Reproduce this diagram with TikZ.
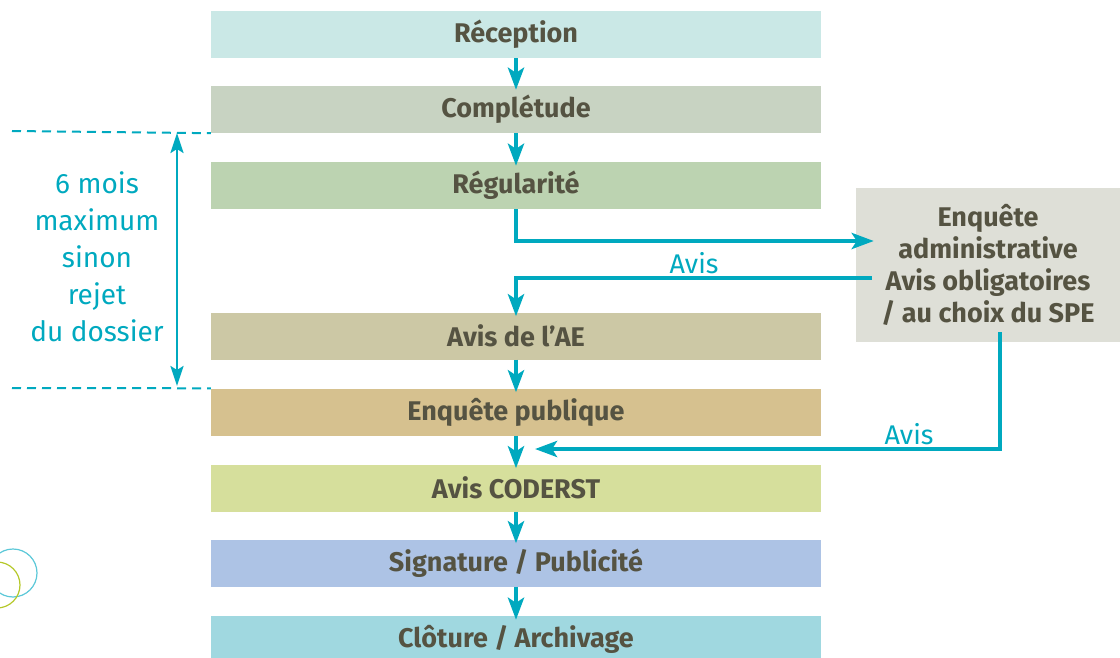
\documentclass[tikz,border=0pt]{standalone}
\usepackage{fontspec}
\setmainfont{Fira Sans}
\usetikzlibrary{graphs,positioning,arrows.meta}
\definecolor{tealline}{HTML}{00A9BF}
\definecolor{stagetext}{HTML}{555342}
\definecolor{recfill}{HTML}{CAE8E6}
\definecolor{compfill}{HTML}{C8D3C2}
\definecolor{regfill}{HTML}{BCD3B1}
\definecolor{aefill}{HTML}{CCC8A5}
\definecolor{pubfill}{HTML}{D6C18F}
\definecolor{codfill}{HTML}{D6DF9C}
\definecolor{sigfill}{HTML}{ADC3E5}
\definecolor{clofill}{HTML}{A0D8E0}
\definecolor{admfill}{HTML}{DEDFD7}
\definecolor{ringblue}{HTML}{5CC8D8}
\definecolor{ringgreen}{HTML}{B5C82A}
\tikzset{
    stage/.style ={
        shape=rectangle,
        minimum width=610pt,
        minimum height=47pt,
        inner sep=0pt,
        text=stagetext,
        font=\fontsize{27}{30}\selectfont\bfseries
    },
    consult/.style ={
        shape=rectangle,
        fill=admfill,
        minimum width=264pt,
        minimum height=154pt,
        inner sep=0pt,
        align=center,
        text=stagetext,
        font=\fontsize{27}{32}\selectfont\bfseries
    },
    flow/.style ={
        draw=tealline,
        line width=4.5pt,
        shorten >=-4pt
    },
    limit/.style ={
        draw=tealline,
        line width=2pt,
        dash pattern=on 9pt off 6pt
    },
    delay/.style ={
        text=tealline,
        align=center,
        font=\fontsize{28}{37}\selectfont
    },
    avis/.style ={
        text=tealline,
        font=\fontsize{27}{30}\selectfont
    }
}
\begin{document}
\begin{tikzpicture}[x=1pt,y=-1pt,>={Stealth[length=22pt,width=16pt,inset=5pt]}]
    \useasboundingbox (0,0) rectangle (1120,658);
    \node[stage,fill=recfill] (rec) at(516,34.5) {Réception};
    \node[stage,fill=compfill] (comp) at(516,109.5) {Complétude};
    \node[stage,fill=regfill] (reg) at(516,185.5) {Régularité};
    \node[stage,fill=aefill] (ae) at(516,336) {Avis de l’AE};
    \node[stage,fill=pubfill] (pub) at(516,412) {Enquête publique};
    \node[stage,fill=codfill] (cod) at(516,488) {Avis CODERST};
    \node[stage,fill=sigfill] (sig) at(516,563) {Signature / Publicité};
    \node[stage,fill=clofill] (clo) at(516,639.5) {Clôture / Archivage};
    \node[consult] (adm) at(988,265) {Enquête\\administrative\\Avis obligatoires\\/ au choix du SPE};
    \graph[edges={flow}]{
        (rec)->(comp)->(reg);
        (ae)->(pub)->(cod)->(sig)->(clo);
    };
    % consultation
    \coordinate (back) at(535,449);
    \draw[flow,->,shorten >=-18pt] (reg.south) |- ([yshift=24pt]adm.west);
    \draw[flow,->,shorten <=-16pt] ([yshift=-13pt]adm.west) -| (ae.north);
    \draw[flow,->,shorten <=-10pt,shorten >=0pt] ([xshift=12pt]adm.south) |- (back);
    \node[avis] (avis1) at(694,263) {Avis};
    \node[avis] (avis2) at(909,434) {Avis};
    % delai
    \coordinate (top) at(12,131);
    \coordinate (bot) at(12,388);
    \draw[limit] (top) -- (comp.south west);
    \draw[limit] (bot) -- (pub.north west);
    \draw[draw=tealline,line width=2.5pt,{Stealth[length=20pt,width=13pt,inset=4pt]}-{Stealth[length=20pt,width=13pt,inset=4pt]}]
        ([xshift=165pt,yshift=-2pt]top) -- ([xshift=165pt,yshift=2pt]bot);
    \node[delay] (delai) at(97,257) {6 mois\\maximum\\sinon\\rejet\\du dossier};
    \draw[ringblue,line width=1.2pt] (13,573) circle (24);
    \draw[ringgreen,line width=1.2pt] (-3,585) circle (23);
\end{tikzpicture}
\end{document}
